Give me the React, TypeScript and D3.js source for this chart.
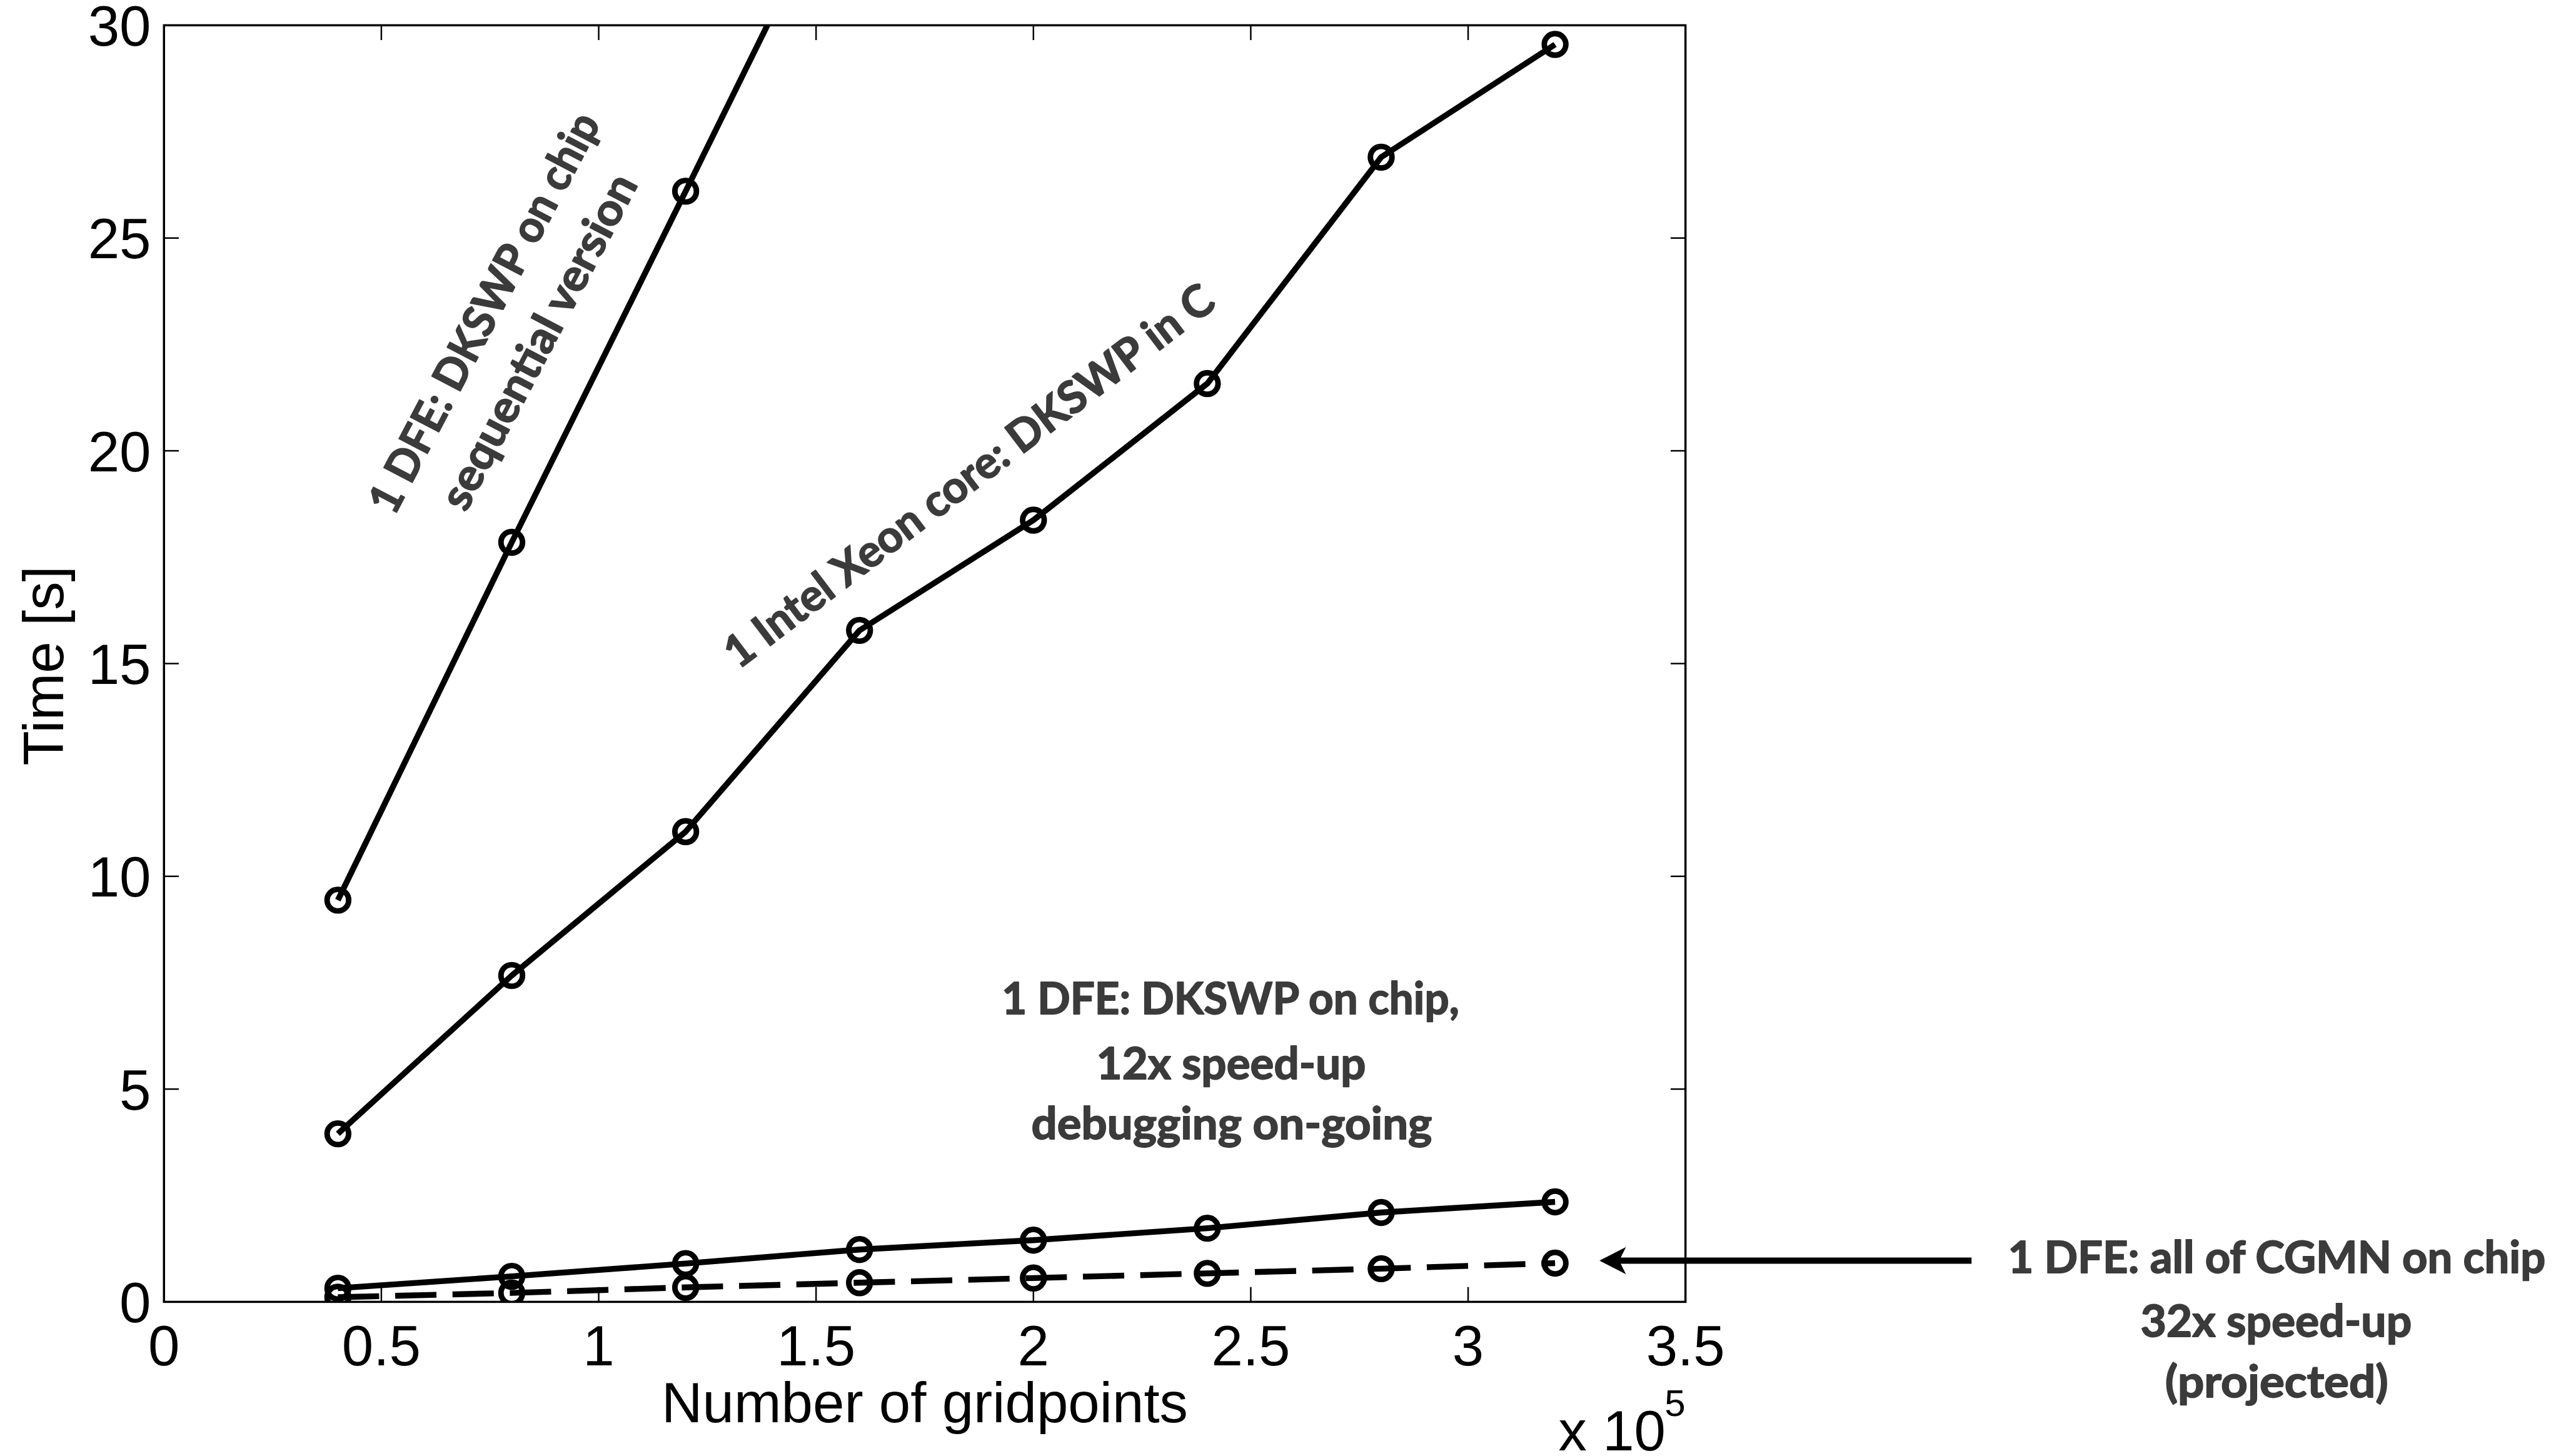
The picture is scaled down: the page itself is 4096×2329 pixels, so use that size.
import React from "react";
import * as d3 from "d3";

// ---------- data (x in units of 10^5 gridpoints, time in seconds) ----------
const gridpoints = [0.4, 0.8, 1.2, 1.6, 2.0, 2.4, 2.8, 3.2];
const dfeSequential = [9.44, 17.85, 26.1, 34.4];
const xeonCore = [3.95, 7.67, 11.05, 15.78, 18.37, 21.58, 26.9, 29.55];
const dfeDkswp = [0.32, 0.6, 0.9, 1.23, 1.45, 1.73, 2.1, 2.35];
const dfeCgmnProjected = [0.11, 0.21, 0.34, 0.45, 0.56, 0.67, 0.78, 0.91];

const xTicks = [0, 0.5, 1, 1.5, 2, 2.5, 3, 3.5];
const xTickLabels = ["0", "0.5", "1", "1.5", "2", "2.5", "3", "3.5"];
const yTicks = [0, 5, 10, 15, 20, 25, 30];
const yTickLabels = ["0", "5", "10", "15", "20", "25", "30"];

const xLabel = "Number of gridpoints";
const yLabel = "Time [s]";

const annSequential = ["1 DFE: DKSWP on chip", "sequential version"];
const annXeon = ["1 Intel Xeon core: DKSWP in C"];
const annDkswp = ["1 DFE: DKSWP on chip,", "12x speed-up", "debugging on-going"];
const annCgmn = ["1 DFE: all of CGMN on chip", "32x speed-up", "(projected)"];

// ---------- layout (reference pixel space, scaled by 0.986) ----------
const SCALE = 0.986;
const M = { left: 266, right: 2734, top: 41, bottom: 2112 };
const TICK_FONT = "'Liberation Sans', Arial, Helvetica, sans-serif";
const ANN_FONT = "Lato, 'Open Sans', sans-serif";
const ANN_COLOR = "#3b3b3b";
const ANN_SIZE = 72;

export default function App() {
  const x = d3.scaleLinear().domain([0, 3.5]).range([M.left, M.right]);
  const y = d3.scaleLinear().domain([0, 30]).range([M.bottom, M.top]);

  const line = d3
    .line<[number, number]>()
    .x((d) => x(d[0]))
    .y((d) => y(d[1]));

  const series = [
    { values: dfeSequential, dashed: false },
    { values: xeonCore, dashed: false },
    { values: dfeDkswp, dashed: false },
    { values: dfeCgmnProjected, dashed: true },
  ].map((s) => ({
    ...s,
    pts: s.values.map((v, i) => [gridpoints[i], v] as [number, number]),
  }));

  const tickLen = 24;

  // arrow pointing at the projected series' last point
  const lastIdx = dfeCgmnProjected.length - 1;
  const arrowTipX = x(gridpoints[lastIdx]) + 72;
  const arrowY = y(dfeCgmnProjected[lastIdx]) - 4;
  const arrowTailX = 3198;
  const headLen = 43;
  const headHalf = 22;
  const notch = 11;

  const annStyle = {
    fontFamily: ANN_FONT,
    fontWeight: 700,
    fontSize: ANN_SIZE,
    fill: ANN_COLOR,
    stroke: ANN_COLOR,
    strokeWidth: 1.8,
    strokeLinejoin: "round" as const,
  };

  return (
    <svg
      width={4096}
      height={2329}
      style={{ position: "absolute", left: 0, top: 0 }}
      xmlns="http://www.w3.org/2000/svg"
    >
      <rect x={0} y={0} width={4096} height={2329} fill="#ffffff" />
      <g transform={`scale(${SCALE})`}>
        <defs>
          <clipPath id="plotClip">
            <rect
              x={M.left}
              y={M.top}
              width={M.right - M.left}
              height={M.bottom - M.top}
            />
          </clipPath>
        </defs>

        {/* data */}
        <g clipPath="url(#plotClip)">
          {series.map((s, si) => (
            <g key={si}>
              <path
                d={line(s.pts) || ""}
                fill="none"
                stroke="#000"
                strokeWidth={9.5}
                strokeLinejoin="round"
                strokeDasharray={s.dashed ? "67,26" : undefined}
              />
              {s.pts.map((p, pi) => (
                <circle
                  key={pi}
                  cx={x(p[0])}
                  cy={y(p[1])}
                  r={17.5}
                  fill="none"
                  stroke="#000"
                  strokeWidth={9}
                />
              ))}
            </g>
          ))}
        </g>

        {/* axes box */}
        <rect
          x={M.left}
          y={M.top}
          width={M.right - M.left}
          height={M.bottom - M.top}
          fill="none"
          stroke="#000"
          strokeWidth={3.5}
        />
        {xTicks.map((t, i) => (
          <g key={"xt" + i}>
            <line x1={x(t)} x2={x(t)} y1={M.bottom} y2={M.bottom - tickLen} stroke="#000" strokeWidth={2.5} />
            <line x1={x(t)} x2={x(t)} y1={M.top} y2={M.top + tickLen} stroke="#000" strokeWidth={2.5} />
            <text
              x={x(t)}
              y={2215}
              textAnchor="middle"
              fontFamily={TICK_FONT}
              fontSize={92}
              fill="#000"
            >
              {xTickLabels[i]}
            </text>
          </g>
        ))}
        {yTicks.map((t, i) => (
          <g key={"yt" + i}>
            <line x1={M.left} x2={M.left + tickLen} y1={y(t)} y2={y(t)} stroke="#000" strokeWidth={2.5} />
            <line x1={M.right} x2={M.right - tickLen} y1={y(t)} y2={y(t)} stroke="#000" strokeWidth={2.5} />
            <text
              x={245}
              y={y(t) + 33}
              textAnchor="end"
              fontFamily={TICK_FONT}
              fontSize={92}
              fill="#000"
            >
              {yTickLabels[i]}
            </text>
          </g>
        ))}

        {/* exponent */}
        <text x={2528} y={2353} fontFamily={TICK_FONT} fontSize={92} fill="#000">
          x 10
        </text>
        <text x={2700} y={2297} fontFamily={TICK_FONT} fontSize={61} fill="#000">
          5
        </text>

        {/* axis labels */}
        <text
          x={(M.left + M.right) / 2}
          y={2307}
          textAnchor="middle"
          fontFamily={TICK_FONT}
          fontSize={92}
          fill="#000"
        >
          {xLabel}
        </text>
        <text
          transform="translate(102,1080) rotate(-90)"
          textAnchor="middle"
          fontFamily={TICK_FONT}
          fontSize={92}
          fill="#000"
        >
          {yLabel}
        </text>

        {/* annotations */}
        <g transform="translate(832,532) rotate(-62.3)" textAnchor="middle" style={annStyle}>
          <text x={0} y={-28} textLength={722} lengthAdjust="spacingAndGlyphs">
            {annSequential[0]}
          </text>
          <text x={0} y={72} textLength={603} lengthAdjust="spacingAndGlyphs">
            {annSequential[1]}
          </text>
        </g>
        <g transform="translate(1571,771) rotate(-37.2)" textAnchor="middle" style={annStyle}>
          <text x={0} y={26} textLength={976} lengthAdjust="spacingAndGlyphs">
            {annXeon[0]}
          </text>
        </g>
        <g textAnchor="middle" style={annStyle}>
          <text x={1996} y={1645} textLength={742} lengthAdjust="spacingAndGlyphs">
            {annDkswp[0]}
          </text>
          <text x={1997} y={1750} textLength={437} lengthAdjust="spacingAndGlyphs">
            {annDkswp[1]}
          </text>
          <text x={1998} y={1848} textLength={650} lengthAdjust="spacingAndGlyphs">
            {annDkswp[2]}
          </text>
          <text x={3693} y={2065} textLength={872} lengthAdjust="spacingAndGlyphs">
            {annCgmn[0]}
          </text>
          <text x={3692} y={2168} textLength={440} lengthAdjust="spacingAndGlyphs">
            {annCgmn[1]}
          </text>
          <text x={3693} y={2267} textLength={362} lengthAdjust="spacingAndGlyphs">
            {annCgmn[2]}
          </text>
        </g>

        {/* arrow */}
        <line
          x1={arrowTailX}
          x2={arrowTipX + headLen - notch}
          y1={arrowY}
          y2={arrowY}
          stroke="#000"
          strokeWidth={10}
        />
        <path
          d={`M${arrowTipX},${arrowY} L${arrowTipX + headLen},${arrowY - headHalf} L${arrowTipX + headLen - notch},${arrowY} L${arrowTipX + headLen},${arrowY + headHalf} Z`}
          fill="#000"
        />
      </g>
    </svg>
  );
}
